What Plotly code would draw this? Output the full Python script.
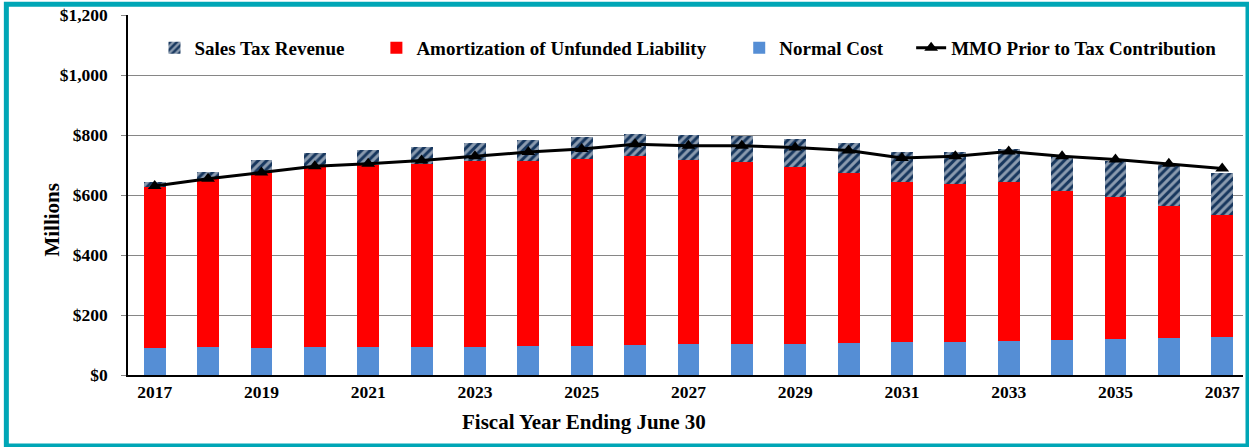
"""plot.py

Recreate the MMO / sales tax contribution projection chart.
"""
import plotly.graph_objects as go

years = [2017, 2018, 2019, 2020, 2021, 2022, 2023, 2024, 2025, 2026, 2027,
         2028, 2029, 2030, 2031, 2032, 2033, 2034, 2035, 2036, 2037]

# millions of dollars
normal_cost = [90, 94, 91, 92, 93, 94, 94, 97, 98, 100, 102,
               103, 105, 108, 109, 111, 115, 118, 121, 123, 127]
amortization = [537, 559, 582, 601, 607, 609, 618, 618, 623, 629, 615,
                607, 589, 567, 534, 527, 527, 497, 471, 442, 406]
sales_tax = [17, 25, 44, 48, 51, 58, 61, 68, 72, 76, 83,
             87, 94, 98, 101, 106, 113, 115, 122, 134, 139]
mmo = [630, 654, 675, 696, 704, 715, 729, 743, 753, 769, 764,
       764, 758, 748, 723, 729, 745, 729, 718, 704, 688]

y_ticks = [0, 200, 400, 600, 800, 1000, 1200]
y_tick_labels = ['$0', '$200', '$400', '$600', '$800', '$1,000', '$1,200']

FONT = 'Liberation Serif'

# plot area in pixels, used to put things outside it in paper coords
PL, PR, PT, PB = 127.5, 1243, 15, 375


def px(x):
  return (x - PL) / (PR - PL)


def py(y):
  return (PB - y) / (PB - PT)


bar_w = 0.41

traces = [
  go.Bar(
    x=years, y=normal_cost, name='Normal Cost', width=bar_w,
    marker=dict(color='#558ED5', line_width=0), legend='legend3'
  ),
  go.Bar(
    x=years, y=amortization, name='Amortization of Unfunded Liability', width=bar_w,
    marker=dict(color='#FF0000', line_width=0), legend='legend2'
  ),
  go.Bar(
    x=years, y=sales_tax, name='Sales Tax Revenue', width=bar_w,
    # navy fill with white diagonal stripes
    marker=dict(color='#17375E', line_width=0,
                pattern=dict(shape='/', fgcolor='white', size=6, solidity=0.5)),
    legend='legend'
  ),
  go.Scatter(
    x=years, y=mmo, name='MMO Prior to Tax Contribution', mode='lines+markers',
    line=dict(color='black', width=3),
    marker=dict(symbol='triangle-up', size=12, color='black'),
    legend='legend4'
  ),
]

legend_font = dict(family=FONT, size=19, color='black', weight='bold')
legend_y = py(48)


def legend_at(text_x):
  return dict(x=px(text_x - 40), y=legend_y, xanchor='left', yanchor='middle',
              orientation='h', font=legend_font, bgcolor='rgba(0,0,0,0)')


fig = go.Figure(data=traces)

fig.update_layout(
  width=1249, height=447,
  barmode='stack',
  paper_bgcolor='white', plot_bgcolor='white',
  margin=dict(l=PL, r=1249 - PR, t=PT, b=447 - PB, autoexpand=False),
  font=dict(family=FONT, color='black'),
  showlegend=True,
  legend=legend_at(194),
  legend2=legend_at(416),
  legend3=legend_at(779),
  legend4=legend_at(951),
  annotations=[
    dict(text='Millions', x=px(37), y=py(220), xref='paper', yref='paper',
         textangle=-90, showarrow=False,
         font=dict(family=FONT, size=21, color='black', weight='bold')),
    dict(text='Fiscal Year Ending June 30', x=px(584), y=py(422),
         xref='paper', yref='paper', showarrow=False, yanchor='middle',
         font=dict(family=FONT, size=21, color='black', weight='bold')),
  ],
  shapes=[
    dict(type='rect', xref='paper', yref='paper', layer='above',
         x0=px(5.8), x1=px(1248), y0=py(446), y1=py(4.2),
         line=dict(color='#00A6B6', width=5), fillcolor='rgba(0,0,0,0)'),
  ],
)

fig.update_xaxes(
  range=[years[0] - 0.5, years[0] - 0.5 + (PR - PL) / 53.4],
  tickmode='linear', tick0=years[0], dtick=2,
  showgrid=False, showline=True, linecolor='black', linewidth=1.5,
  ticks='', tickfont=dict(family=FONT, size=17.5, color='black', weight='bold'),
)
fig.update_yaxes(
  range=[0, 1200], tickvals=y_ticks, ticktext=y_tick_labels,
  showgrid=True, gridcolor='#868686', gridwidth=1, zeroline=False,
  showline=True, linecolor='black', linewidth=1.5,
  ticks='outside', ticklen=5, tickcolor='#868686', ticklabelstandoff=10,
  tickfont=dict(family=FONT, size=17.5, color='black', weight='bold'),
)

# the page body has a default 8px margin; drop it so the figure sits at 0,0
fig.write_html('out.html', config={'displayModeBar': False},
               post_script="document.body.style.margin = '0';")
